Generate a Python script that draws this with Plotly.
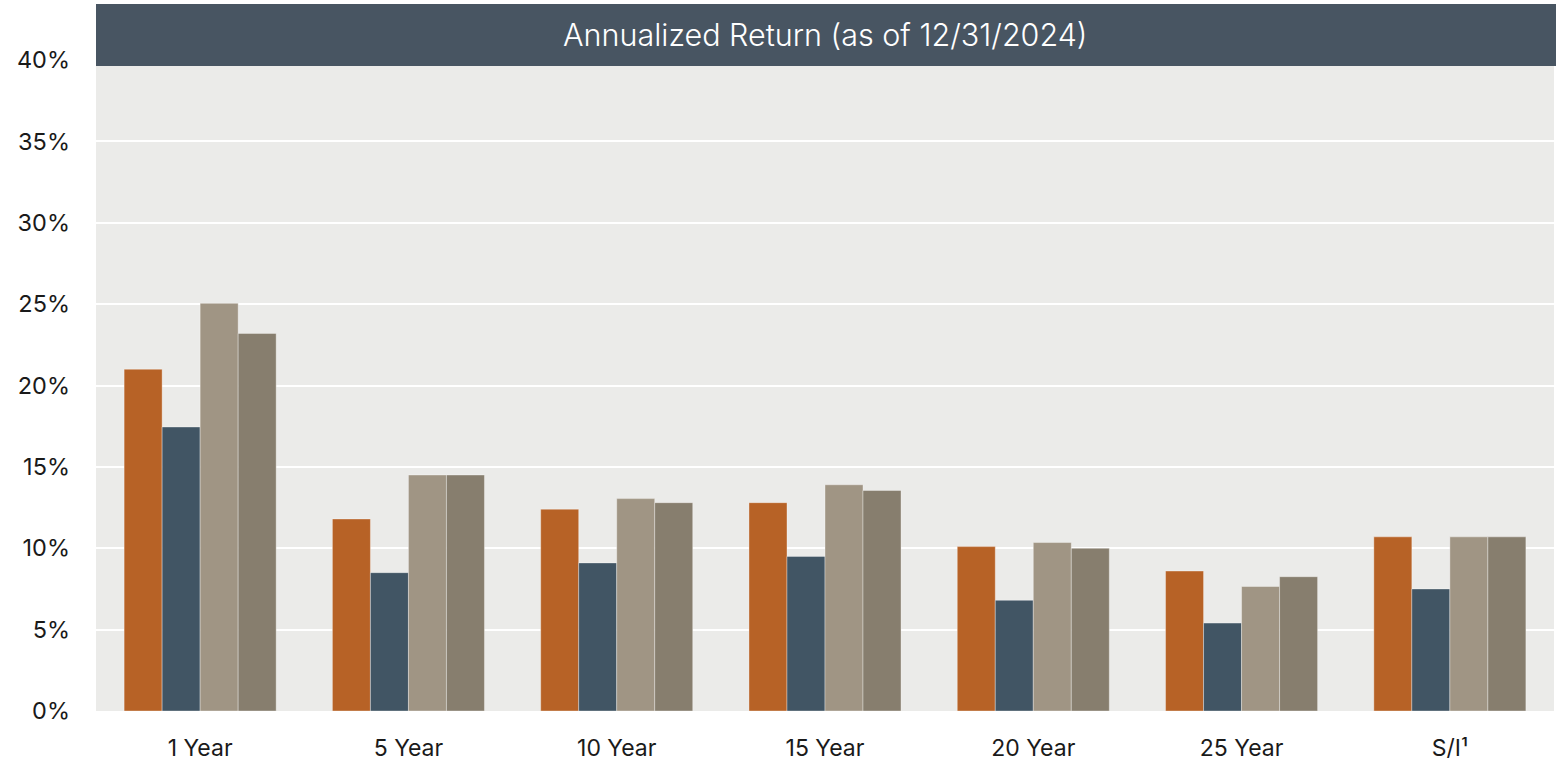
import plotly.graph_objects as go

categories = ["1 Year", "5 Year", "10 Year", "15 Year", "20 Year", "25 Year", "S/I¹"]
series_a = [21.0, 11.8, 12.4, 12.8, 10.1, 8.6, 10.7]
series_b = [17.45, 8.5, 9.1, 9.5, 6.8, 5.4, 7.5]
series_c = [25.05, 14.5, 13.05, 13.9, 10.35, 7.65, 10.7]
series_d = [23.2, 14.5, 12.8, 13.55, 10.0, 8.25, 10.7]
series_names = ["Series A", "Series B", "Series C", "Series D"]
colors = ["#B76226", "#415564", "#A09584", "#877E6E"]
y_ticks = [0, 5, 10, 15, 20, 25, 30, 35, 40]
y_tick_labels = [f"{t}%" for t in y_ticks]
title_text = "Annualized Return (as of 12/31/2024)"

fig = go.Figure()
for name, vals, col in zip(series_names, [series_a, series_b, series_c, series_d], colors):
    fig.add_trace(go.Bar(
        x=categories, y=vals, name=name,
        marker=dict(color=col, line=dict(color="rgba(255,255,255,0.35)", width=1)),
        hoverinfo="x+y",
    ))

fig.update_layout(
    width=1556, height=769,
    barmode="group", bargap=0.27, bargroupgap=0,
    showlegend=False,
    paper_bgcolor="white", plot_bgcolor="#EBEBE9",
    margin=dict(l=96, r=2, t=60, b=58),
    font=dict(family="Inter, Roboto, sans-serif", color="#1a1a1a", size=23),
    xaxis=dict(showgrid=False, ticks="", tickfont=dict(size=23), showline=False,
               ticklabelstandoff=21),
    yaxis=dict(range=[0, 40], tickvals=y_ticks, ticktext=y_tick_labels,
               showgrid=True, gridcolor="white", gridwidth=2, zeroline=False,
               tickfont=dict(size=23.5), ticks="", ticklabelstandoff=25),
    shapes=[dict(type="rect", xref="paper", yref="paper", x0=0, x1=1.002,
                 y0=(711 - 66) / 651, y1=(711 - 4) / 651,
                 fillcolor="#485562", line=dict(width=0), layer="above")],
    annotations=[dict(text=title_text, xref="paper", yref="paper",
                      x=0.5, y=(711 - 35) / 651, showarrow=False,
                      xanchor="center", yanchor="middle",
                      font=dict(size=30.5, color="white", weight=300,
                                family="Inter, Roboto, sans-serif"))],
)

fig.write_html("out.html", config={"displayModeBar": False},
               post_script="document.body.style.margin='0';document.body.style.padding='0';")
